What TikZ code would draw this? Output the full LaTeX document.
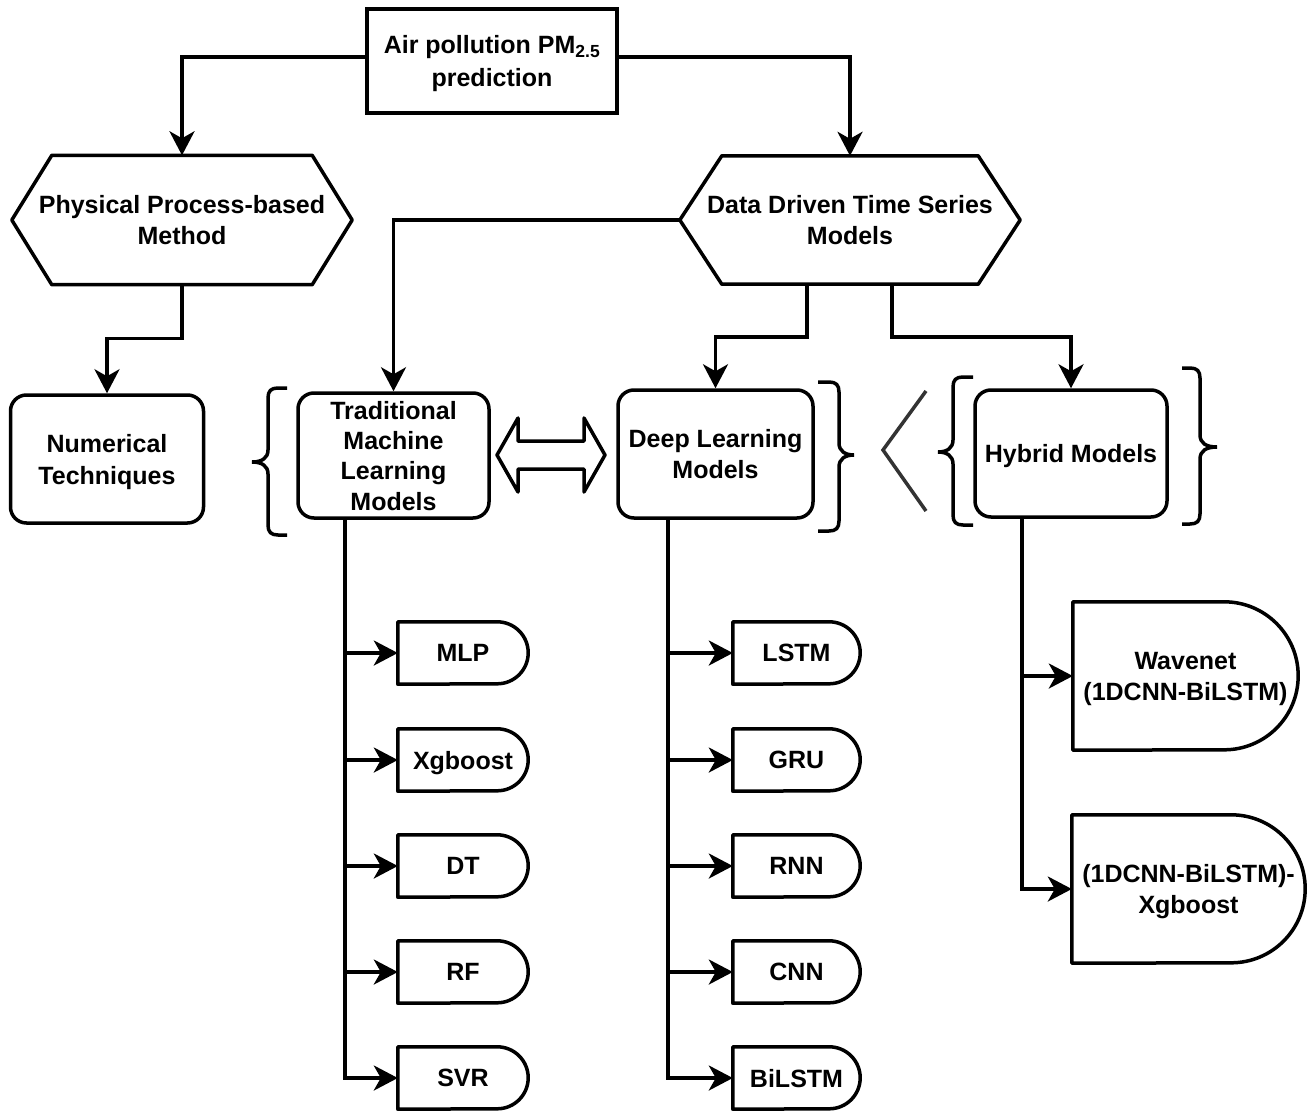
\documentclass[tikz,border=0pt]{standalone}
\usepackage{fontspec}
\setmainfont{Liberation Sans}
\usetikzlibrary{arrows.meta,calc}
\tikzset{
  shp/.style={line width=3.5pt, line join=round},
  conn/.style={line width=3.5pt, -{Stealth[length=24pt,width=25pt,inset=7pt]}},
  brc/.style={line width=3.5pt},
  gbrc/.style={line width=3.5pt, draw=black!80},
  box/.style={draw, line width=3.5pt, rounded corners=16pt, align=center, inner sep=0pt, text depth=0pt},
  anch/.style={align=center, inner sep=0pt, draw=none, text depth=0pt},
}
% xend, xvert, xtip, ytop, ymid, ybot, dir (1 = tip left, -1 = tip right)
\newcommand\mybrace[7]{%
\draw[brc] (#1,-#4) -- ({#2+10*(#7)},-#4) .. controls ({#2+3*(#7)},-#4) and (#2,{-#4-3}) .. (#2,{-#4-10})
  -- (#2,{-#5+12}) .. controls (#2,{-#5+4}) and ({#2-6*(#7)},-#5) .. (#3,-#5)
  .. controls ({#2-6*(#7)},-#5) and (#2,{-#5-4}) .. (#2,{-#5-12})
  -- (#2,{-#6+10}) .. controls (#2,{-#6+3}) and ({#2+3*(#7)},-#6) .. ({#2+10*(#7)},-#6) -- (#1,-#6);}
\newcommand\delayshp[2]{%
\draw[shp] (#1.north west) -- ([xshift=-#2pt]#1.north east) arc[start angle=90,end angle=-90,radius=#2] -- (#1.south west) -- cycle;}
\newcommand\hexshp[2]{%
\draw[shp] (#1.west) -- ([xshift=#2pt]#1.north west) -- ([xshift=-#2pt]#1.north east) -- (#1.east)
  -- ([xshift=-#2pt]#1.south east) -- ([xshift=#2pt]#1.south west) -- cycle;}
\begin{document}
\begin{tikzpicture}[x=1pt,y=1pt,font=\bfseries\fontsize{25}{31}\selectfont]
\path[use as bounding box, fill=white] (0,0) rectangle (1310,-1114);

% top
\node[box, rounded corners=0pt, minimum width=250, minimum height=104, font=\bfseries\fontsize{25}{33}\selectfont] (top) at (492,-61)
  {Air pollution PM\textsubscript{2.5}\\prediction};

% hexagons
\node[anch, minimum width=340, minimum height=129] (phys) at (182,-220)
  {Physical Process-based\\Method};
\hexshp{phys}{40}
\node[anch, minimum width=340, minimum height=128] (data) at (850,-220)
  {Data Driven Time Series\\Models};
\hexshp{data}{42}

% second level
\node[box, minimum width=193, minimum height=128, font=\bfseries\fontsize{25}{32}\selectfont] (num) at (107,-459)
  {Numerical\\Techniques};
\node[box, minimum width=191, minimum height=125, font=\bfseries\fontsize{25}{30.3}\selectfont] (trad) at (393.5,-455.5)
  {Traditional\\Machine\\Learning\\Models};
\node[box, minimum width=195, minimum height=128] (deep) at (715.5,-454)
  {Deep Learning\\Models};
\node[box, minimum width=192, minimum height=127] (hyb) at (1071,-453.5)
  {Hybrid Models};

% braces and symbols
\mybrace{287}{268}{252}{388}{462}{535}{1}
\mybrace{818}{839}{854}{382}{455}{531}{-1}
\mybrace{973}{953}{938}{377}{452}{525}{1}
\mybrace{1182}{1200}{1217}{368}{447}{524}{-1}
\draw[gbrc] (926,-391) -- (883,-450) -- (926,-511);
\draw[shp] (497,-455) -- (518,-418) -- (518,-441) -- (584,-441) -- (584,-418) -- (605,-455)
  -- (584,-492) -- (584,-469) -- (518,-469) -- (518,-492) -- cycle;

% leaves: traditional
\foreach \n/\t/\y in {mlp/MLP/653, xgb/Xgboost/760, dt/DT/866, rf/RF/972, svr/SVR/1078}{
  \node[anch, minimum width=130, minimum height=62] (\n) at (463,-\y) {\t};
  \delayshp{\n}{31}
}
% leaves: deep
\foreach \n/\t/\y in {lstm/LSTM/653, gru/GRU/760, rnn/RNN/866, cnn/CNN/972, bil/BiLSTM/1078}{
  \node[anch, minimum width=127, minimum height=62] (\n) at (796.5,-\y) {\t};
  \delayshp{\n}{31}
}
% leaves: hybrid
\node[anch, minimum width=225, minimum height=148] (wav) at (1185.5,-676)
  {Wavenet\\(1DCNN-BiLSTM)};
\delayshp{wav}{74}
\node[anch, minimum width=233, minimum height=148] (cx) at (1188.5,-889)
  {(1DCNN-BiLSTM)-\\Xgboost};
\delayshp{cx}{74}

% connectors
\draw[conn] ([yshift=4pt]top.west) -| (phys.north);
\draw[conn] ([yshift=4pt]top.east) -| (data.north);
\draw[conn] (phys.south) -- ++(0,-54) -| (num.north);
\draw[conn] (data.west) -| (trad.north);
\draw[conn] ([xshift=-43pt]data.south) -- ++(0,-53) -| (deep.north);
\draw[conn] ([xshift=42pt]data.south) -- ++(0,-53) -| (hyb.north);

\foreach \n in {mlp,xgb,dt,rf,svr}
  \draw[conn] ([xshift=-48.5pt]trad.south) |- (\n.west);
\foreach \n in {lstm,gru,rnn,cnn,bil}
  \draw[conn] ([xshift=-47.5pt]deep.south) |- (\n.west);
\foreach \n in {wav,cx}
  \draw[conn] ([xshift=-49pt]hyb.south) |- (\n.west);
\end{tikzpicture}
\end{document}
